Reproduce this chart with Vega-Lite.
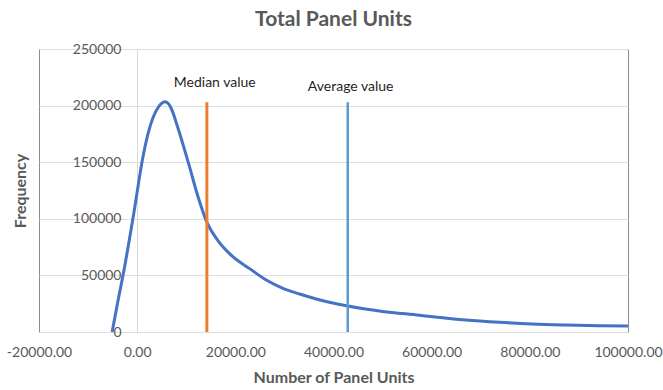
{
  "$schema": "https://vega.github.io/schema/vega-lite/v6.json",
  "autosize": "none",
  "width": 589,
  "height": 283,
  "padding": {"left": 39, "top": 49, "right": 35, "bottom": 58},
  "background": "white",
  "title": {
    "text": "Total Panel Units",
    "font": "Lato",
    "fontSize": 21,
    "fontWeight": "bold",
    "color": "#595959",
    "anchor": "middle",
    "offset": 12
  },
  "config": {
    "view": {"stroke": "#8c8c8c", "strokeWidth": 1},
    "font": "Lato"
  },
  "datasets": {
    "curve": [
      {"units": -5100, "freq": 0},
      {"units": -4000, "freq": 25500},
      {"units": -2800, "freq": 51900},
      {"units": -800, "freq": 101800},
      {"units": 1150, "freq": 154000},
      {"units": 2200, "freq": 175000},
      {"units": 3300, "freq": 190200},
      {"units": 4500, "freq": 199800},
      {"units": 5700, "freq": 203400},
      {"units": 7000, "freq": 197000},
      {"units": 8000, "freq": 184400},
      {"units": 10400, "freq": 150000},
      {"units": 12400, "freq": 119500},
      {"units": 14200, "freq": 97000},
      {"units": 16500, "freq": 80500},
      {"units": 19500, "freq": 66500},
      {"units": 22900, "freq": 56000},
      {"units": 26300, "freq": 45900},
      {"units": 29700, "freq": 38600},
      {"units": 33100, "freq": 33600},
      {"units": 36500, "freq": 29200},
      {"units": 42900, "freq": 23000},
      {"units": 50000, "freq": 18200},
      {"units": 57500, "freq": 14800},
      {"units": 60200, "freq": 13500},
      {"units": 67000, "freq": 10600},
      {"units": 73800, "freq": 8600},
      {"units": 80500, "freq": 7100},
      {"units": 87400, "freq": 6200},
      {"units": 94100, "freq": 5600},
      {"units": 100000, "freq": 5300}
    ],
    "markers": [
      {"name": "Median value", "units": 14200, "base": 0, "top": 203000, "labelUnits": 15800, "labelFreq": 220000, "color": "#ED7D31", "width": 3},
      {"name": "Average value", "units": 42900, "base": 0, "top": 203000, "labelUnits": 43500, "labelFreq": 216400, "color": "#5B9BD5", "width": 2.5}
    ]
  },
  "layer": [
    {
      "data": {"name": "curve"},
      "mark": {"type": "line", "color": "#4472C4", "strokeWidth": 3, "interpolate": "monotone"},
      "encoding": {
        "x": {
          "field": "units",
          "type": "quantitative",
          "scale": {"domain": [-20000, 100000], "nice": false, "zero": false},
          "axis": {
            "title": "Number of Panel Units",
            "titleFont": "Lato",
            "titleFontSize": 16,
            "titleFontWeight": "bold",
            "titleColor": "#595959",
            "titlePadding": 10,
            "values": [-20000, 0, 20000, 40000, 60000, 80000, 100000],
            "labelExpr": "datum.value < 0 ? '-' + format(-datum.value, '.2f') : format(datum.value, '.2f')",
            "labelFont": "Lato",
            "labelFontSize": 14,
            "labelColor": "#595959",
            "labelPadding": 13,
            "labelOverlap": false,
            "labelFlush": false,
            "ticks": false,
            "grid": false,
            "domain": false
          }
        },
        "y": {
          "field": "freq",
          "type": "quantitative",
          "scale": {"domain": [0, 250000], "nice": false},
          "axis": {
            "title": "Frequency",
            "titleFont": "Lato",
            "titleFontSize": 16,
            "titleFontWeight": "bold",
            "titleColor": "#595959",
            "titleX": -117,
            "titleY": 141.5,
            "titleAngle": -90,
            "titleAlign": "center",
            "titleBaseline": "middle",
            "offset": -98,
            "values": [0, 50000, 100000, 150000, 200000, 250000],
            "format": "d",
            "labelFont": "Lato",
            "labelFontSize": 14,
            "labelColor": "#595959",
            "labelPadding": 16,
            "ticks": false,
            "domain": true,
            "domainColor": "#d9d9d9",
            "grid": true,
            "gridColor": "#dedede",
            "gridWidth": 1
          }
        }
      }
    },
    {
      "data": {"name": "markers"},
      "mark": {"type": "rule"},
      "encoding": {
        "x": {"field": "units", "type": "quantitative"},
        "y": {"field": "base", "type": "quantitative"},
        "y2": {"field": "top"},
        "color": {"field": "color", "type": "nominal", "scale": null},
        "strokeWidth": {"field": "width", "type": "quantitative", "scale": null}
      }
    },
    {
      "data": {"name": "markers"},
      "mark": {"type": "text", "font": "Lato", "fontSize": 14, "color": "#1f1f1f", "align": "center", "baseline": "middle"},
      "encoding": {
        "x": {"field": "labelUnits", "type": "quantitative"},
        "y": {"field": "labelFreq", "type": "quantitative"},
        "text": {"field": "name"}
      }
    }
  ]
}
